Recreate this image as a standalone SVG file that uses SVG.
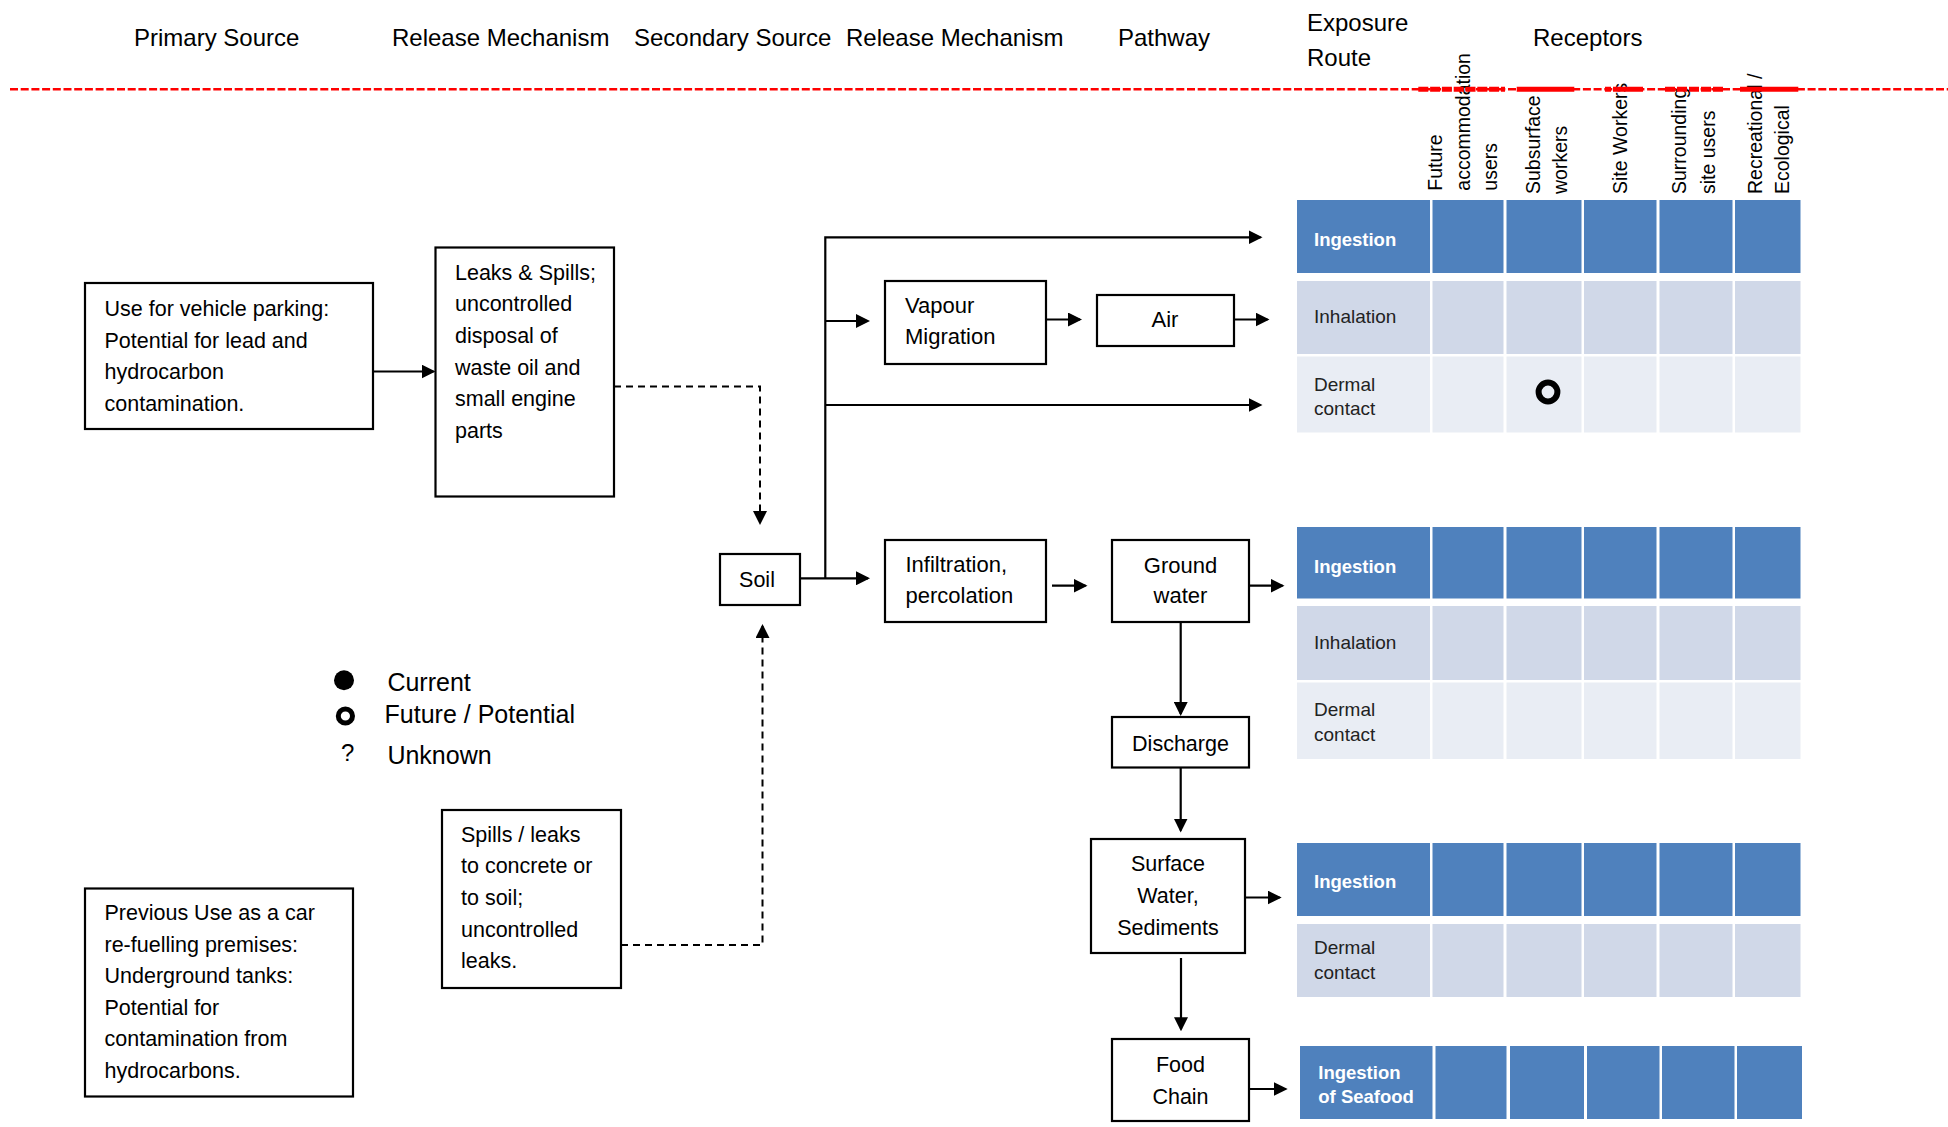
<svg xmlns="http://www.w3.org/2000/svg" width="1948" height="1127" viewBox="0 0 1948 1127">
<style>
text{font-family:'Liberation Sans',Arial,sans-serif;fill:#000}
.hdr{font-size:24px}
.leg{font-size:25px}
.b21{font-size:21.5px}
.b22{font-size:22px}
.box{fill:#fff;stroke:#000;stroke-width:2.2}
.conn{fill:none;stroke:#000;stroke-width:2.2}
.dash{stroke-dasharray:7 5;stroke-width:2}
.ing{fill:#4F81BD}
.mid{fill:#D0D8E8}
.lt{fill:#E9EDF4}
.tw{fill:#fff;font-weight:bold;font-size:18.5px}
.tk{fill:#222;font-size:19px}
.rec{font-size:19.5px}
.red{stroke:#FF0000;fill:none}
</style>
<defs>
<marker id="ah" viewBox="0 0 14 14" refX="12" refY="7" markerWidth="14" markerHeight="14" markerUnits="userSpaceOnUse" orient="auto"><path d="M0,0 L14,7 L0,14 z" fill="#000"/></marker>
</defs>
<rect width="1948" height="1127" fill="#fff"/>

<g id="headers">
<text class="hdr" x="134" y="46">Primary Source</text>
<text class="hdr" x="392" y="46">Release Mechanism</text>
<text class="hdr" x="634" y="46">Secondary Source</text>
<text class="hdr" x="846" y="46">Release Mechanism</text>
<text class="hdr" x="1118" y="46">Pathway</text>
<text class="hdr" x="1307" y="31">Exposure</text>
<text class="hdr" x="1307" y="66">Route</text>
<text class="hdr" x="1533" y="46">Receptors</text>
</g>

<g id="receptor-labels">
<text class="rec" transform="translate(1442,190.7) rotate(-90)">Future</text>
<text class="rec" transform="translate(1469.5,190.7) rotate(-90)">accommodation</text>
<text class="rec" transform="translate(1496.5,190.7) rotate(-90)">users</text>
<text class="rec" transform="translate(1540,194) rotate(-90)">Subsurface</text>
<text class="rec" transform="translate(1567,194) rotate(-90)">workers</text>
<text class="rec" transform="translate(1626.5,194) rotate(-90)">Site Workers</text>
<text class="rec" transform="translate(1686,194) rotate(-90)">Surrounding</text>
<text class="rec" transform="translate(1714.5,194) rotate(-90)">site users</text>
<text class="rec" transform="translate(1762,194) rotate(-90)">Recreational /</text>
<text class="rec" transform="translate(1789,194) rotate(-90)">Ecological</text>
</g>

<g id="divider">
<line class="red" x1="10" y1="89.3" x2="1948" y2="89.3" stroke-width="2.6" stroke-dasharray="8 2.7"/>
<line class="red" x1="1418.3" y1="89.3" x2="1505" y2="89.3" stroke-width="5" stroke-dasharray="10 1.8"/>
<line class="red" x1="1516.7" y1="89.3" x2="1574.3" y2="89.3" stroke-width="5"/>
<line class="red" x1="1605" y1="89.3" x2="1643.3" y2="89.3" stroke-width="5" stroke-dasharray="6 2 30"/>
<line class="red" x1="1665" y1="89.3" x2="1723.3" y2="89.3" stroke-width="5" stroke-dasharray="10 2"/>
<line class="red" x1="1740" y1="89.3" x2="1798.3" y2="89.3" stroke-width="5"/>
</g>

<g id="node-primary-parking">
<rect class="box" x="85" y="283" width="288" height="146"/>
<text class="b21" x="104.5" y="316">Use for vehicle parking:</text>
<text class="b21" x="104.5" y="347.5">Potential for lead and</text>
<text class="b21" x="104.5" y="379">hydrocarbon</text>
<text class="b21" x="104.5" y="410.5">contamination.</text>
</g>

<g id="node-release-leaks">
<rect class="box" x="435.5" y="247.5" width="178.5" height="249"/>
<text class="b21" x="455" y="279.5">Leaks &amp; Spills;</text>
<text class="b21" x="455" y="311.2">uncontrolled</text>
<text class="b21" x="455" y="342.9">disposal of</text>
<text class="b21" x="455" y="374.6">waste oil and</text>
<text class="b21" x="455" y="406.3">small engine</text>
<text class="b21" x="455" y="438">parts</text>
</g>

<g id="node-primary-refuelling">
<rect class="box" x="85" y="888.5" width="268" height="208"/>
<text class="b21" x="104.5" y="920">Previous Use as a car</text>
<text class="b21" x="104.5" y="951.7">re-fuelling premises:</text>
<text class="b21" x="104.5" y="983.3">Underground tanks:</text>
<text class="b21" x="104.5" y="1015">Potential for</text>
<text class="b21" x="104.5" y="1046.3">contamination from</text>
<text class="b21" x="104.5" y="1077.8">hydrocarbons.</text>
</g>

<g id="node-release-spills">
<rect class="box" x="442" y="810" width="179" height="178"/>
<text class="b21" x="461" y="841.7">Spills / leaks</text>
<text class="b21" x="461" y="873.3">to concrete or</text>
<text class="b21" x="461" y="905">to soil;</text>
<text class="b21" x="461" y="936.5">uncontrolled</text>
<text class="b21" x="461" y="968">leaks.</text>
</g>

<g id="node-soil">
<rect class="box" x="720" y="554" width="80" height="51"/>
<text class="b21" x="757" y="587" text-anchor="middle">Soil</text>
</g>

<g id="node-vapour">
<rect class="box" x="885" y="281" width="161" height="83"/>
<text class="b22" x="905" y="312.7">Vapour</text>
<text class="b22" x="905" y="344">Migration</text>
</g>

<g id="node-air">
<rect class="box" x="1097" y="295" width="137" height="51"/>
<text class="b22" x="1165" y="327" text-anchor="middle">Air</text>
</g>

<g id="node-infiltration">
<rect class="box" x="885" y="540" width="161" height="82"/>
<text class="b22" x="905.5" y="571.7">Infiltration,</text>
<text class="b22" x="905.5" y="603.3">percolation</text>
</g>

<g id="node-groundwater">
<rect class="box" x="1112" y="540" width="137" height="82"/>
<text class="b22" x="1180.5" y="572.7" text-anchor="middle">Ground</text>
<text class="b22" x="1180.5" y="603.3" text-anchor="middle">water</text>
</g>

<g id="node-discharge">
<rect class="box" x="1112" y="717" width="137" height="50.5"/>
<text class="b21" x="1180.5" y="750.5" text-anchor="middle">Discharge</text>
</g>

<g id="node-surface-water">
<rect class="box" x="1091" y="839" width="154" height="114"/>
<text class="b21" x="1168" y="870.6" text-anchor="middle">Surface</text>
<text class="b21" x="1168" y="903" text-anchor="middle">Water,</text>
<text class="b21" x="1168" y="934.5" text-anchor="middle">Sediments</text>
</g>

<g id="node-food-chain">
<rect class="box" x="1112" y="1039" width="137" height="82"/>
<text class="b21" x="1180.5" y="1072.3" text-anchor="middle">Food</text>
<text class="b21" x="1180.5" y="1104.2" text-anchor="middle">Chain</text>
</g>

<g id="table-soil-air">
<g class="ing">
<rect x="1297" y="200" width="133" height="73"/><rect x="1432.5" y="200" width="71" height="73"/><rect x="1506.5" y="200" width="75" height="73"/><rect x="1584" y="200" width="72.5" height="73"/><rect x="1659.5" y="200" width="73" height="73"/><rect x="1735" y="200" width="65.5" height="73"/>
</g>
<g class="mid">
<rect x="1297" y="281" width="133" height="73"/><rect x="1432.5" y="281" width="71" height="73"/><rect x="1506.5" y="281" width="75" height="73"/><rect x="1584" y="281" width="72.5" height="73"/><rect x="1659.5" y="281" width="73" height="73"/><rect x="1735" y="281" width="65.5" height="73"/>
</g>
<g class="lt">
<rect x="1297" y="356.5" width="133" height="76"/><rect x="1432.5" y="356.5" width="71" height="76"/><rect x="1506.5" y="356.5" width="75" height="76"/><rect x="1584" y="356.5" width="72.5" height="76"/><rect x="1659.5" y="356.5" width="73" height="76"/><rect x="1735" y="356.5" width="65.5" height="76"/>
</g>
<text class="tw" x="1314" y="245.5">Ingestion</text>
<text class="tk" x="1314" y="323.3">Inhalation</text>
<text class="tk" x="1314" y="390.5">Dermal</text>
<text class="tk" x="1314" y="415">contact</text>
<circle cx="1548" cy="392" r="9.4" fill="none" stroke="#000" stroke-width="6"/>
</g>

<g id="table-groundwater">
<g class="ing">
<rect x="1297" y="527" width="133" height="71.5"/><rect x="1432.5" y="527" width="71" height="71.5"/><rect x="1506.5" y="527" width="75" height="71.5"/><rect x="1584" y="527" width="72.5" height="71.5"/><rect x="1659.5" y="527" width="73" height="71.5"/><rect x="1735" y="527" width="65.5" height="71.5"/>
</g>
<g class="mid">
<rect x="1297" y="606" width="133" height="74"/><rect x="1432.5" y="606" width="71" height="74"/><rect x="1506.5" y="606" width="75" height="74"/><rect x="1584" y="606" width="72.5" height="74"/><rect x="1659.5" y="606" width="73" height="74"/><rect x="1735" y="606" width="65.5" height="74"/>
</g>
<g class="lt">
<rect x="1297" y="682.5" width="133" height="76.5"/><rect x="1432.5" y="682.5" width="71" height="76.5"/><rect x="1506.5" y="682.5" width="75" height="76.5"/><rect x="1584" y="682.5" width="72.5" height="76.5"/><rect x="1659.5" y="682.5" width="73" height="76.5"/><rect x="1735" y="682.5" width="65.5" height="76.5"/>
</g>
<text class="tw" x="1314" y="572.8">Ingestion</text>
<text class="tk" x="1314" y="648.8">Inhalation</text>
<text class="tk" x="1314" y="716">Dermal</text>
<text class="tk" x="1314" y="741">contact</text>
</g>

<g id="table-surface-water">
<g class="ing">
<rect x="1297" y="843" width="133" height="73"/><rect x="1432.5" y="843" width="71" height="73"/><rect x="1506.5" y="843" width="75" height="73"/><rect x="1584" y="843" width="72.5" height="73"/><rect x="1659.5" y="843" width="73" height="73"/><rect x="1735" y="843" width="65.5" height="73"/>
</g>
<g class="mid">
<rect x="1297" y="924" width="133" height="73"/><rect x="1432.5" y="924" width="71" height="73"/><rect x="1506.5" y="924" width="75" height="73"/><rect x="1584" y="924" width="72.5" height="73"/><rect x="1659.5" y="924" width="73" height="73"/><rect x="1735" y="924" width="65.5" height="73"/>
</g>
<text class="tw" x="1314" y="888">Ingestion</text>
<text class="tk" x="1314" y="954">Dermal</text>
<text class="tk" x="1314" y="978.8">contact</text>
</g>

<g id="table-food-chain">
<g class="ing">
<rect x="1300" y="1046" width="132.5" height="73"/><rect x="1435.5" y="1046" width="71" height="73"/><rect x="1510" y="1046" width="74" height="73"/><rect x="1587" y="1046" width="72.5" height="73"/><rect x="1662" y="1046" width="72.5" height="73"/><rect x="1737" y="1046" width="65" height="73"/>
</g>
<text class="tw" x="1318.3" y="1078.8">Ingestion</text>
<text class="tw" x="1318.3" y="1102.8">of Seafood</text>
</g>

<g id="legend">
<circle cx="344" cy="680.3" r="10" fill="#000"/>
<text class="leg" x="387.4" y="690.7">Current</text>
<circle cx="345.4" cy="716" r="7.1" fill="none" stroke="#000" stroke-width="5"/>
<text class="leg" x="384.6" y="723.3">Future / Potential</text>
<text class="hdr" x="341" y="760.7">?</text>
<text class="leg" x="387.4" y="764">Unknown</text>
</g>

<g id="connectors">
<path class="conn" d="M373,371.5 H433.5" marker-end="url(#ah)"/>
<path class="conn dash" d="M614,386.5 H760 V523" marker-end="url(#ah)"/>
<path class="conn dash" d="M621,945 H762.5 V626" marker-end="url(#ah)"/>
<path class="conn" d="M800,578.3 H868" marker-end="url(#ah)"/>
<path class="conn" d="M825.3,578.3 V237.3 H1260.5" marker-end="url(#ah)"/>
<path class="conn" d="M825.3,321 H868" marker-end="url(#ah)"/>
<path class="conn" d="M825.3,405 H1260.5" marker-end="url(#ah)"/>
<path class="conn" d="M1046,319.5 H1080" marker-end="url(#ah)"/>
<path class="conn" d="M1234,319.5 H1267.5" marker-end="url(#ah)"/>
<path class="conn" d="M1052,585.7 H1085.5" marker-end="url(#ah)"/>
<path class="conn" d="M1249,585.7 H1282.5" marker-end="url(#ah)"/>
<path class="conn" d="M1180.7,622 V714" marker-end="url(#ah)"/>
<path class="conn" d="M1180.7,767.5 V830.5" marker-end="url(#ah)"/>
<path class="conn" d="M1245,897.5 H1279.7" marker-end="url(#ah)"/>
<path class="conn" d="M1181,958 V1029.3" marker-end="url(#ah)"/>
<path class="conn" d="M1249,1089 H1285.7" marker-end="url(#ah)"/>
</g>
</svg>
